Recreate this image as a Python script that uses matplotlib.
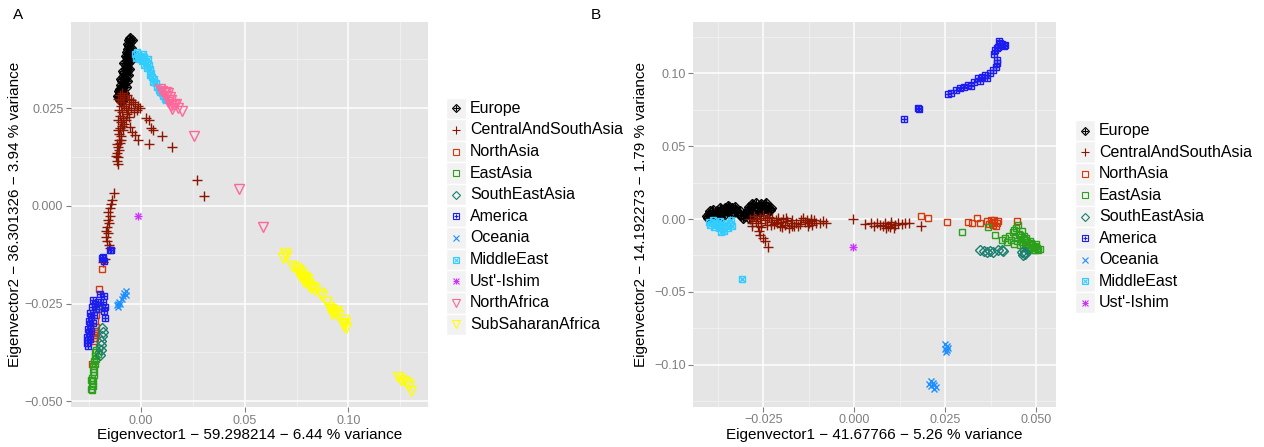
import matplotlib
matplotlib.use('Agg')
import matplotlib.pyplot as plt
from matplotlib.patches import Rectangle

plt.rcParams['font.family'] = ['Liberation Sans', 'DejaVu Sans']

# ---- panel A points (Eigenvector1, Eigenvector2) ----
A_EUROPE = [(-0.0055, 0.0430), (-0.0060, 0.0425), (-0.0052, 0.0420), (-0.0065, 0.0415), (-0.0058, 0.0410),
            (-0.0062, 0.0403), (-0.0055, 0.0398), (-0.0068, 0.0395), (-0.0060, 0.0388), (-0.0066, 0.0382),
            (-0.0058, 0.0378), (-0.0070, 0.0372), (-0.0063, 0.0366), (-0.0072, 0.0360), (-0.0066, 0.0355),
            (-0.0075, 0.0350), (-0.0069, 0.0345), (-0.0080, 0.0340), (-0.0073, 0.0335), (-0.0085, 0.0330),
            (-0.0078, 0.0326), (-0.0090, 0.0320), (-0.0083, 0.0315), (-0.0095, 0.0310), (-0.0088, 0.0305),
            (-0.0100, 0.0300), (-0.0092, 0.0296), (-0.0103, 0.0290), (-0.0096, 0.0286), (-0.0105, 0.0280),
            (-0.0098, 0.0276), (-0.0102, 0.0271), (-0.0094, 0.0268),
            (-0.0045, 0.0425), (-0.0048, 0.0405), (-0.0050, 0.0390), (-0.0055, 0.0370), (-0.0060, 0.0350),
            (-0.0065, 0.0335), (-0.0070, 0.0320), (-0.0075, 0.0305), (-0.0080, 0.0290), (-0.0085, 0.0278),
            (-0.0075, 0.0385), (-0.0080, 0.0365), (-0.0088, 0.0345), (-0.0095, 0.0325), (-0.0108, 0.0295),
            (-0.0110, 0.0282)]
A_CSA = [(-0.0100, 0.0285), (-0.0090, 0.0290), (-0.0080, 0.0280), (-0.0070, 0.0285), (-0.0060, 0.0275),
         (-0.0050, 0.0270), (-0.0040, 0.0265), (-0.0030, 0.0260), (-0.0015, 0.0255), (-0.0005, 0.0250),
         (-0.0020, 0.0245), (-0.0060, 0.0260), (-0.0085, 0.0265), (-0.0100, 0.0270), (-0.0095, 0.0255),
         (-0.0075, 0.0250), (-0.0105, 0.0245), (-0.0090, 0.0240), (-0.0070, 0.0235), (-0.0100, 0.0230),
         (-0.0085, 0.0225), (-0.0060, 0.0228), (-0.0095, 0.0215), (-0.0080, 0.0210), (-0.0100, 0.0200),
         (-0.0088, 0.0195), (-0.0105, 0.0185), (-0.0095, 0.0178), (-0.0108, 0.0170), (-0.0100, 0.0160),
         (-0.0112, 0.0150), (-0.0105, 0.0142), (-0.0115, 0.0135), (-0.0110, 0.0125), (-0.0118, 0.0115),
         (-0.0112, 0.0108),
         (-0.0110, 0.0275), (-0.0095, 0.0265), (-0.0080, 0.0255), (-0.0065, 0.0245), (-0.0050, 0.0250),
         (-0.0035, 0.0240), (-0.0110, 0.0220), (-0.0075, 0.0220), (-0.0090, 0.0205), (-0.0110, 0.0195),
         (-0.0098, 0.0168), (-0.0118, 0.0158), (-0.0120, 0.0128),
         (0.0023, 0.0225), (0.0039, 0.0220), (0.0059, 0.0195), (0.0050, 0.0200), (0.0100, 0.0180),
         (-0.0013, 0.0169), (0.0039, 0.0158), (0.0148, 0.0152), (-0.0053, 0.0203), (-0.0029, 0.0182),
         (-0.0045, 0.0190), (0.0272, 0.0067), (0.0304, 0.0026),
         (-0.0129, 0.0033), (-0.0140, 0.0015), (-0.0145, 0.0005), (-0.0150, -0.0005), (-0.0158, -0.0015),
         (-0.0152, -0.0025), (-0.0160, -0.0035), (-0.0155, -0.0045), (-0.0163, -0.0055), (-0.0168, -0.0065),
         (-0.0160, -0.0070), (-0.0168, -0.0080), (-0.0162, -0.0090), (-0.0155, -0.0100), (-0.0150, -0.0108),
         (-0.0182, -0.0143), (-0.0175, -0.0135)]
A_NORTHASIA = [(-0.0190, -0.0161), (-0.0201, -0.0213), (-0.0210, -0.0265), (-0.0215, -0.0280), (-0.0220, -0.0295),
               (-0.0218, -0.0310), (-0.0222, -0.0320), (-0.0225, -0.0330), (-0.0220, -0.0338), (-0.0228, -0.0345),
               (-0.0215, -0.0325), (-0.0238, -0.0405)]
A_EASTASIA = [(-0.0200, -0.0256), (-0.0205, -0.0365), (-0.0215, -0.0370), (-0.0210, -0.0378), (-0.0220, -0.0385),
              (-0.0215, -0.0392), (-0.0225, -0.0398), (-0.0220, -0.0405), (-0.0230, -0.0410), (-0.0225, -0.0418),
              (-0.0232, -0.0425), (-0.0228, -0.0432), (-0.0235, -0.0440), (-0.0230, -0.0448), (-0.0238, -0.0455),
              (-0.0233, -0.0462), (-0.0240, -0.0468), (-0.0236, -0.0472), (-0.0222, -0.0375), (-0.0242, -0.0445)]
A_SEASIA = [(-0.0214, -0.0258), (-0.0190, -0.0313), (-0.0186, -0.0322), (-0.0190, -0.0332), (-0.0194, -0.0345),
            (-0.0192, -0.0355), (-0.0194, -0.0368), (-0.0196, -0.0382)]
A_AMERICA = [(-0.0145, -0.0114), (-0.0152, -0.0112), (-0.0190, -0.0134), (-0.0180, -0.0140), (-0.0185, -0.0130),
             (-0.0198, -0.0225), (-0.0177, -0.0232), (-0.0185, -0.0245), (-0.0174, -0.0258), (-0.0180, -0.0270),
             (-0.0174, -0.0288), (-0.0230, -0.0241), (-0.0220, -0.0250), (-0.0235, -0.0260), (-0.0246, -0.0275),
             (-0.0240, -0.0285), (-0.0250, -0.0295), (-0.0245, -0.0305), (-0.0255, -0.0315), (-0.0250, -0.0325),
             (-0.0259, -0.0335), (-0.0255, -0.0343), (-0.0260, -0.0352), (-0.0254, -0.0360), (-0.0245, -0.0340),
             (-0.0240, -0.0320), (-0.0230, -0.0300), (-0.0225, -0.0280), (-0.0215, -0.0265), (-0.0210, -0.0245)]
A_OCEANIA = [(-0.0115, -0.0255), (-0.0110, -0.0250), (-0.0105, -0.0245), (-0.0100, -0.0252), (-0.0090, -0.0238),
             (-0.0085, -0.0230), (-0.0080, -0.0222), (-0.0075, -0.0228), (-0.0072, -0.0218), (-0.0110, -0.0260)]
A_MIDDLEEAST = [(-0.0030, 0.0390), (-0.0025, 0.0380), (-0.0015, 0.0385), (-0.0010, 0.0375), (0.0000, 0.0380),
                (0.0005, 0.0370), (0.0012, 0.0382), (0.0020, 0.0372), (0.0015, 0.0362), (0.0028, 0.0365),
                (0.0035, 0.0375), (0.0040, 0.0360), (0.0030, 0.0352), (0.0045, 0.0350), (0.0050, 0.0340),
                (0.0042, 0.0335), (0.0055, 0.0330), (0.0062, 0.0325), (0.0058, 0.0318), (0.0070, 0.0315),
                (0.0078, 0.0305), (0.0085, 0.0298), (0.0092, 0.0292), (0.0100, 0.0288), (0.0108, 0.0282),
                (0.0115, 0.0275), (0.0120, 0.0270), (-0.0020, 0.0395), (0.0008, 0.0390)]
A_USTISHIM = [(-0.0013, -0.0026)]
A_NORTHAFRICA = [(0.0090, 0.0300), (0.0100, 0.0295), (0.0110, 0.0290), (0.0120, 0.0292), (0.0125, 0.0282),
                 (0.0132, 0.0288), (0.0140, 0.0280), (0.0135, 0.0272), (0.0145, 0.0270), (0.0150, 0.0262),
                 (0.0142, 0.0255), (0.0160, 0.0258), (0.0170, 0.0262), (0.0180, 0.0250), (0.0195, 0.0243),
                 (0.0150, 0.0248), (0.0128, 0.0265), (0.0257, 0.0179), (0.0473, 0.0043), (0.0587, -0.0053)]
A_SUBSAHARA = [(0.0694, -0.0121), (0.0683, -0.0134), (0.0700, -0.0128), (0.0727, -0.0155), (0.0745, -0.0160),
               (0.0755, -0.0165), (0.0765, -0.0170), (0.0760, -0.0178), (0.0775, -0.0175), (0.0780, -0.0185),
               (0.0790, -0.0182), (0.0795, -0.0192), (0.0785, -0.0195), (0.0805, -0.0198), (0.0810, -0.0205),
               (0.0800, -0.0188), (0.0820, -0.0210), (0.0830, -0.0208), (0.0840, -0.0215), (0.0863, -0.0224),
               (0.0875, -0.0232), (0.0895, -0.0245), (0.0905, -0.0258), (0.0915, -0.0265), (0.0925, -0.0270),
               (0.0935, -0.0275), (0.0945, -0.0270), (0.0950, -0.0280), (0.0920, -0.0278), (0.0978, -0.0293),
               (0.0985, -0.0300), (0.0980, -0.0308), (0.0988, -0.0313), (0.0975, -0.0302), (0.1241, -0.0437),
               (0.1255, -0.0445), (0.1268, -0.0448), (0.1281, -0.0454), (0.1290, -0.0462), (0.1300, -0.0473)]

# ---- panel B points ----
B_EUROPE = [(-0.0405, 0.0020), (-0.0400, 0.0035), (-0.0395, 0.0010), (-0.0390, 0.0045), (-0.0385, 0.0025),
            (-0.0378, 0.0055), (-0.0372, 0.0035), (-0.0365, 0.0065), (-0.0360, 0.0045), (-0.0355, 0.0075),
            (-0.0350, 0.0055), (-0.0345, 0.0085), (-0.0340, 0.0060), (-0.0335, 0.0075), (-0.0330, 0.0050),
            (-0.0325, 0.0065), (-0.0320, 0.0040), (-0.0312, 0.0030), (-0.0305, 0.0010), (-0.0298, 0.0035),
            (-0.0292, 0.0060), (-0.0288, 0.0085), (-0.0282, 0.0100), (-0.0275, 0.0075), (-0.0270, 0.0110),
            (-0.0262, 0.0090), (-0.0255, 0.0105), (-0.0250, 0.0070), (-0.0245, 0.0095), (-0.0238, 0.0080),
            (-0.0232, 0.0060), (-0.0228, 0.0075), (-0.0260, 0.0045), (-0.0240, 0.0040), (-0.0280, 0.0040),
            (-0.0395, 0.0055), (-0.0370, 0.0015),
            (-0.0402, 0.0005), (-0.0388, 0.0060), (-0.0380, 0.0040), (-0.0368, 0.0075), (-0.0358, 0.0030),
            (-0.0348, 0.0090), (-0.0338, 0.0040), (-0.0328, 0.0080), (-0.0315, 0.0055), (-0.0300, 0.0020),
            (-0.0285, 0.0060), (-0.0278, 0.0095), (-0.0265, 0.0060), (-0.0252, 0.0085), (-0.0242, 0.0110),
            (-0.0235, 0.0065), (-0.0268, 0.0025), (-0.0290, 0.0010)]
B_CSA = [(-0.0285, 0.0000), (-0.0280, -0.0030), (-0.0275, 0.0020), (-0.0270, -0.0015), (-0.0265, -0.0045),
         (-0.0260, 0.0010), (-0.0255, -0.0025), (-0.0250, 0.0025), (-0.0245, -0.0010), (-0.0240, -0.0040),
         (-0.0235, 0.0015), (-0.0230, -0.0020), (-0.0225, 0.0005), (-0.0220, -0.0035), (-0.0215, -0.0010),
         (-0.0210, 0.0010), (-0.0205, -0.0045), (-0.0200, -0.0020), (-0.0195, 0.0000), (-0.0190, -0.0040),
         (-0.0185, -0.0015), (-0.0180, -0.0060), (-0.0175, -0.0030), (-0.0170, -0.0010), (-0.0165, -0.0045),
         (-0.0160, -0.0025), (-0.0155, -0.0050), (-0.0145, -0.0010), (-0.0140, 0.0005), (-0.0135, -0.0020),
         (-0.0130, -0.0005), (-0.0125, -0.0030), (-0.0120, -0.0015), (-0.0115, -0.0040), (-0.0110, -0.0010),
         (-0.0105, -0.0025), (-0.0095, -0.0030), (-0.0085, -0.0015), (-0.0078, -0.0030), (-0.0262, -0.0080),
         (-0.0258, -0.0110), (-0.0250, -0.0130), (-0.0245, -0.0150), (-0.0237, -0.0190),
         (-0.0280, -0.0050), (-0.0270, 0.0000), (-0.0255, -0.0055), (-0.0240, 0.0010), (-0.0228, -0.0040),
         (-0.0212, -0.0025), (-0.0198, -0.0055), (-0.0188, 0.0005), (-0.0172, -0.0050), (-0.0150, -0.0035),
         (-0.0128, -0.0045), (-0.0118, 0.0000),
         (-0.0003, 0.0000), (0.0029, -0.0034), (0.0045, -0.0030), (0.0055, -0.0045), (0.0062, -0.0025),
         (0.0070, -0.0040), (0.0078, -0.0050), (0.0085, -0.0030), (0.0092, -0.0045), (0.0098, -0.0055),
         (0.0102, -0.0035), (0.0108, -0.0060), (0.0112, -0.0040), (0.0120, -0.0030), (0.0130, -0.0035),
         (0.0139, -0.0025), (0.0150, -0.0030), (0.0182, -0.0048), (0.0100, -0.0020), (0.0088, -0.0065)]
B_NORTHASIA = [(0.0183, 0.0021), (0.0203, 0.0009), (0.0254, -0.0018), (0.0313, -0.0022), (0.0322, -0.0028),
               (0.0336, 0.0005), (0.0345, -0.0026), (0.0364, -0.0015), (0.0370, -0.0035), (0.0375, -0.0010),
               (0.0380, -0.0040), (0.0385, -0.0020), (0.0388, -0.0050), (0.0392, -0.0030), (0.0396, -0.0015),
               (0.0378, -0.0025), (0.0448, -0.0012), (0.0385, -0.0005)]
B_EASTASIA = [(0.0297, -0.0092), (0.0368, -0.0053), (0.0387, -0.0110), (0.0405, -0.0144), (0.0415, -0.0130),
              (0.0420, -0.0160), (0.0425, -0.0115), (0.0430, -0.0145), (0.0435, -0.0090), (0.0440, -0.0170),
              (0.0442, -0.0125), (0.0445, -0.0060), (0.0448, -0.0150), (0.0452, -0.0100), (0.0455, -0.0180),
              (0.0458, -0.0135), (0.0460, -0.0160), (0.0463, -0.0200), (0.0465, -0.0120), (0.0468, -0.0175),
              (0.0470, -0.0145), (0.0473, -0.0195), (0.0475, -0.0160), (0.0478, -0.0210), (0.0480, -0.0180),
              (0.0483, -0.0150), (0.0486, -0.0200), (0.0488, -0.0170), (0.0492, -0.0190), (0.0495, -0.0210),
              (0.0498, -0.0185), (0.0502, -0.0200), (0.0505, -0.0215), (0.0510, -0.0205), (0.0438, -0.0075),
              (0.0462, -0.0085), (0.0450, -0.0040),
              (0.0472, -0.0130), (0.0485, -0.0165), (0.0490, -0.0215), (0.0478, -0.0190), (0.0466, -0.0140),
              (0.0500, -0.0175), (0.0495, -0.0195), (0.0456, -0.0110)]
B_SEASIA = [(0.0345, -0.0213), (0.0355, -0.0220), (0.0364, -0.0225), (0.0372, -0.0218), (0.0380, -0.0228),
            (0.0395, -0.0215), (0.0405, -0.0210), (0.0409, -0.0220), (0.0460, -0.0230), (0.0464, -0.0245),
            (0.0470, -0.0238), (0.0468, -0.0225)]
B_AMERICA = [(0.0137, 0.0687), (0.0176, 0.0760), (0.0178, 0.0755), (0.0258, 0.0859), (0.0265, 0.0862),
             (0.0280, 0.0885), (0.0290, 0.0898), (0.0300, 0.0905), (0.0313, 0.0920), (0.0320, 0.0915),
             (0.0330, 0.0940), (0.0341, 0.0966), (0.0345, 0.0950), (0.0352, 0.0975), (0.0359, 0.0989),
             (0.0365, 0.0970), (0.0372, 0.1000), (0.0382, 0.1023), (0.0388, 0.1045), (0.0392, 0.1070),
             (0.0391, 0.1092), (0.0385, 0.1130), (0.0387, 0.1161), (0.0395, 0.1180), (0.0400, 0.1207),
             (0.0405, 0.1200), (0.0410, 0.1185), (0.0414, 0.1195), (0.0398, 0.1220), (0.0392, 0.1175)]
B_OCEANIA = [(0.0250, -0.0860), (0.0255, -0.0875), (0.0248, -0.0890), (0.0256, -0.0900), (0.0252, -0.0915),
             (0.0258, -0.0885), (0.0210, -0.1110), (0.0215, -0.1125), (0.0220, -0.1140), (0.0205, -0.1130),
             (0.0225, -0.1155), (0.0218, -0.1170), (0.0212, -0.1150)]
B_MIDDLEEAST = [(-0.0400, -0.0020), (-0.0395, -0.0040), (-0.0388, -0.0010), (-0.0385, -0.0055), (-0.0378, -0.0030),
                (-0.0372, -0.0065), (-0.0368, -0.0015), (-0.0362, -0.0045), (-0.0358, -0.0080), (-0.0352, -0.0025),
                (-0.0348, -0.0060), (-0.0342, -0.0035), (-0.0338, -0.0010), (-0.0335, -0.0050), (-0.0365, -0.0090),
                (-0.0308, -0.0410)]
B_USTISHIM = [(-0.0003, -0.0195)]

groups_a = ['Europe', 'CentralAndSouthAsia', 'NorthAsia', 'EastAsia', 'SouthEastAsia', 'America',
            'Oceania', 'MiddleEast', "Ust'-Ishim", 'NorthAfrica', 'SubSaharanAfrica']
groups_b = groups_a[:9]

points_a = [A_EUROPE, A_CSA, A_NORTHASIA, A_EASTASIA, A_SEASIA, A_AMERICA,
            A_OCEANIA, A_MIDDLEEAST, A_USTISHIM, A_NORTHAFRICA, A_SUBSAHARA]
points_b = [B_EUROPE, B_CSA, B_NORTHASIA, B_EASTASIA, B_SEASIA, B_AMERICA,
            B_OCEANIA, B_MIDDLEEAST, B_USTISHIM]

colors = {'Europe': '#000000', 'CentralAndSouthAsia': '#8B1500', 'NorthAsia': '#D4380D',
          'EastAsia': '#2CA01C', 'SouthEastAsia': '#1A7F6E', 'America': '#1C1CF0',
          'Oceania': '#1E90FF', 'MiddleEast': '#33CCFF', "Ust'-Ishim": '#CC33FF',
          'NorthAfrica': '#FF6699', 'SubSaharanAfrica': '#FFFF00'}

# ggplot-ish shapes built from overlaid matplotlib markers (marker, size)
shapes = {'Europe': [('D', 5.0), ('+', 5.5)], 'CentralAndSouthAsia': [('+', 7.0)],
          'NorthAsia': [('s', 5.0)], 'EastAsia': [('s', 5.0)], 'SouthEastAsia': [('D', 5.0)],
          'America': [('s', 5.0), ('+', 4.0)], 'Oceania': [('x', 5.0)],
          'MiddleEast': [('s', 5.0), ('x', 4.0)], "Ust'-Ishim": [('+', 6.0), ('x', 5.0)],
          'NorthAfrica': [('v', 6.5)], 'SubSaharanAfrica': [('v', 6.5)]}


def draw_points(ax, pts, name):
    xs = [p[0] for p in pts]
    ys = [p[1] for p in pts]
    for m, ms in shapes[name]:
        ax.plot(xs, ys, ls='none', marker=m, ms=ms, mfc='none', mec=colors[name], mew=1.0, zorder=3)


def style_axes(ax, xmaj, xlab, ymaj, ylab, xmin, ymin, xlim, ylim):
    ax.set_facecolor('#E5E5E5')
    for s in ax.spines.values():
        s.set_visible(False)
    ax.set_xlim(xlim)
    ax.set_ylim(ylim)
    ax.set_xticks(xmaj)
    ax.set_xticklabels(xlab)
    ax.set_yticks(ymaj)
    ax.set_yticklabels(ylab)
    ax.set_xticks(xmin, minor=True)
    ax.set_yticks(ymin, minor=True)
    ax.set_axisbelow(True)
    ax.grid(which='major', color='white', lw=1.1)
    ax.grid(which='minor', color='#F2F2F2', lw=0.6)
    ax.tick_params(which='major', length=3.5, width=0.8, color='#7F7F7F', labelcolor='#7F7F7F',
                   labelsize=9, pad=2)
    ax.tick_params(which='minor', length=0)


fig = plt.figure(figsize=(12.64, 4.47), dpi=100)

axA = fig.add_axes([71 / 1264, 40 / 447, 357 / 1264, 385 / 447])
for name, pts in zip(groups_a, points_a):
    draw_points(axA, pts, name)
style_axes(axA, [0.0, 0.05, 0.10], ['0.00', '0.05', '0.10'],
           [0.025, 0.0, -0.025, -0.05], ['0.025', '0.000', '\u22120.025', '\u22120.050'],
           [-0.025, 0.025, 0.075, 0.125], [0.0375, 0.0125, -0.0125, -0.0375],
           (-0.0338, 0.1384), (-0.0515, 0.0471))
axA.set_xlabel('Eigenvector1 \u2212 59.298214 \u2212 6.44 % variance', fontsize=11, labelpad=1)
axA.set_ylabel('Eigenvector2 \u2212 36.301326 \u2212 3.94 % variance', fontsize=11, labelpad=2)

axB = fig.add_axes([693.3 / 1264, 40.3 / 447, 362.7 / 1264, 384.7 / 447])
for name, pts in zip(groups_b, points_b):
    draw_points(axB, pts, name)
style_axes(axB, [-0.025, 0.0, 0.025, 0.05], ['\u22120.025', '0.000', '0.025', '0.050'],
           [0.10, 0.05, 0.0, -0.05, -0.10], ['0.10', '0.05', '0.00', '\u22120.05', '\u22120.10'],
           [-0.0375, -0.0125, 0.0125, 0.0375], [0.125, 0.075, 0.025, -0.025, -0.075, -0.125],
           (-0.0442, 0.0554), (-0.1289, 0.1353))
axB.set_xlabel('Eigenvector1 \u2212 41.67766 \u2212 5.26 % variance', fontsize=11, labelpad=1)
axB.set_ylabel('Eigenvector2 \u2212 14.192273 \u2212 1.79 % variance', fontsize=11, labelpad=4)

# overlay in pixel coordinates for panel letters and the legends
ov = fig.add_axes([0, 0, 1, 1])
ov.set_xlim(0, 1264)
ov.set_ylim(447, 0)
ov.axis('off')
ov.text(18, 15, 'A', fontsize=11, ha='center', va='center')
ov.text(596, 15, 'B', fontsize=11, ha='center', va='center')


def draw_legend(names, key_x, first_y, step):
    for i, name in enumerate(names):
        yc = first_y + i * step
        ov.add_patch(Rectangle((key_x, yc - step / 2), 20, step, facecolor='#F2F2F2',
                               edgecolor='white', lw=1.0))
        for m, ms in shapes[name]:
            ov.plot([key_x + 10], [yc], ls='none', marker=m, ms=ms * 0.8, mfc='none',
                    mec=colors[name], mew=0.8)
        ov.text(key_x + 24, yc, name, fontsize=11.5, ha='left', va='center')


draw_legend(groups_a, 446, 108.3, 21.6)
draw_legend(groups_b, 1075, 130.7, 21.5)

fig.savefig('out.png', dpi=100)
